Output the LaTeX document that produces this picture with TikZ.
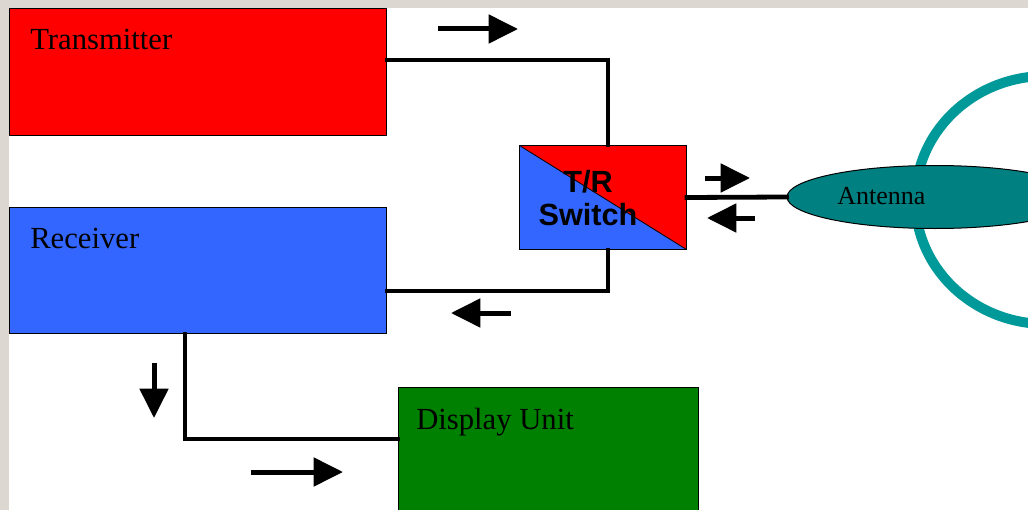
\documentclass[tikz,border=0pt]{standalone}
\usepackage{fontspec}
\setmainfont{Liberation Serif}
\newfontfamily\switchfont{Liberation Sans}
\usetikzlibrary{arrows.meta,shapes.geometric}
\definecolor{txred}{RGB}{255,0,0}
\definecolor{rxblue}{RGB}{51,102,255}
\definecolor{dispgreen}{RGB}{0,128,0}
\definecolor{antteal}{RGB}{0,128,128}
\definecolor{ringteal}{RGB}{0,153,153}
\definecolor{framegray}{RGB}{221,215,209}
\tikzset{
  blockbox/.style={draw=black, line width=0.75pt, inner sep=0pt, anchor=north west},
  blocklabel/.style={anchor=base west, inner sep=0pt, font=\fontsize{23}{26}\selectfont},
  wire/.style={line width=3.6pt, line join=miter, line cap=rect},
  bigarrow/.style={line width=3.75pt, -{Triangle[length=22pt,width=21pt]}},
  ring/.style={draw=ringteal, line width=7.5pt},
}
\begin{document}
\begin{tikzpicture}[x=0.75pt,y=-0.75pt]
\useasboundingbox (0,0) rectangle (1028,510);
\begin{scope}
\clip (0,0) rectangle (1028,510);
% frame
\fill[framegray] (0,0) rectangle (1028,510);
\fill[white] (9,8) rectangle (1028,510);
% antenna radiation ring
\draw[ring] (1046,200) ellipse [x radius=98pt, y radius=93pt];
% blocks
\node[blockbox, fill=txred, minimum width=282.75pt, minimum height=95.25pt] (tx) at (9,8) {};
\node[blocklabel] (txl) at (30,50) {Transmitter};
\node[blockbox, fill=rxblue, minimum width=282.75pt, minimum height=94.5pt] (rx) at (9,207) {};
\node[blocklabel] (rxl) at (30,248) {Receiver};
\node[blockbox, fill=dispgreen, minimum width=225pt, minimum height=105pt] (disp) at (398,387) {};
\node[blocklabel] (displ) at (416,429) {Display Unit};
% T/R switch
\node[blockbox, minimum width=125.25pt, minimum height=78pt,
  path picture={
    \fill[rxblue] (path picture bounding box.north west) -- (path picture bounding box.south east) -- (path picture bounding box.south west) -- cycle;
    \fill[txred] (path picture bounding box.north west) -- (path picture bounding box.north east) -- (path picture bounding box.south east) -- cycle;
    \draw[line width=0.6pt] (path picture bounding box.north west) -- (path picture bounding box.south east);
  }] (sw) at (519,145) {};
\node[align=center, inner sep=0pt, font=\switchfont\bfseries\fontsize{23}{24.75}\selectfont] (swl) at (588,198) {T/R\\Switch};
% antenna
\node[ellipse, draw=black, line width=0.75pt, fill=antteal, minimum width=222pt, minimum height=47.25pt, inner sep=0pt] (ant) at (935,197) {};
\node[anchor=base west, inner sep=0pt, font=\fontsize{19.5}{22}\selectfont] (antl) at (837,204) {Antenna};
% connectors
\coordinate (t1) at (608,60);
\coordinate (r1) at (608,291);
\coordinate (d1) at (185,439);
\draw[wire] (tx.east |- t1) -- (t1) -- (t1 |- sw.north);
\draw[wire] (sw.south -| r1) -- (r1) -- (r1 -| rx.east);
\draw[wire] (sw.east) -- (ant.west);
\draw[wire] (rx.south -| d1) -- (d1) -- (d1 -| disp.west);
% direction arrows
\coordinate (a1s) at (438,29);  \coordinate (a1e) at (518,29);
\coordinate (a2s) at (705,178); \coordinate (a2e) at (750,178);
\coordinate (a3s) at (755,218); \coordinate (a3e) at (707,218);
\coordinate (a4s) at (511,313); \coordinate (a4e) at (451,313);
\coordinate (a5s) at (154,363); \coordinate (a5e) at (154,418);
\coordinate (a6s) at (251,472); \coordinate (a6e) at (343,472);
\draw[bigarrow] (a1s) -- (a1e);
\draw[bigarrow] (a2s) -- (a2e);
\draw[bigarrow] (a3s) -- (a3e);
\draw[bigarrow] (a4s) -- (a4e);
\draw[bigarrow] (a5s) -- (a5e);
\draw[bigarrow] (a6s) -- (a6e);
\end{scope}
\end{tikzpicture}
\end{document}
